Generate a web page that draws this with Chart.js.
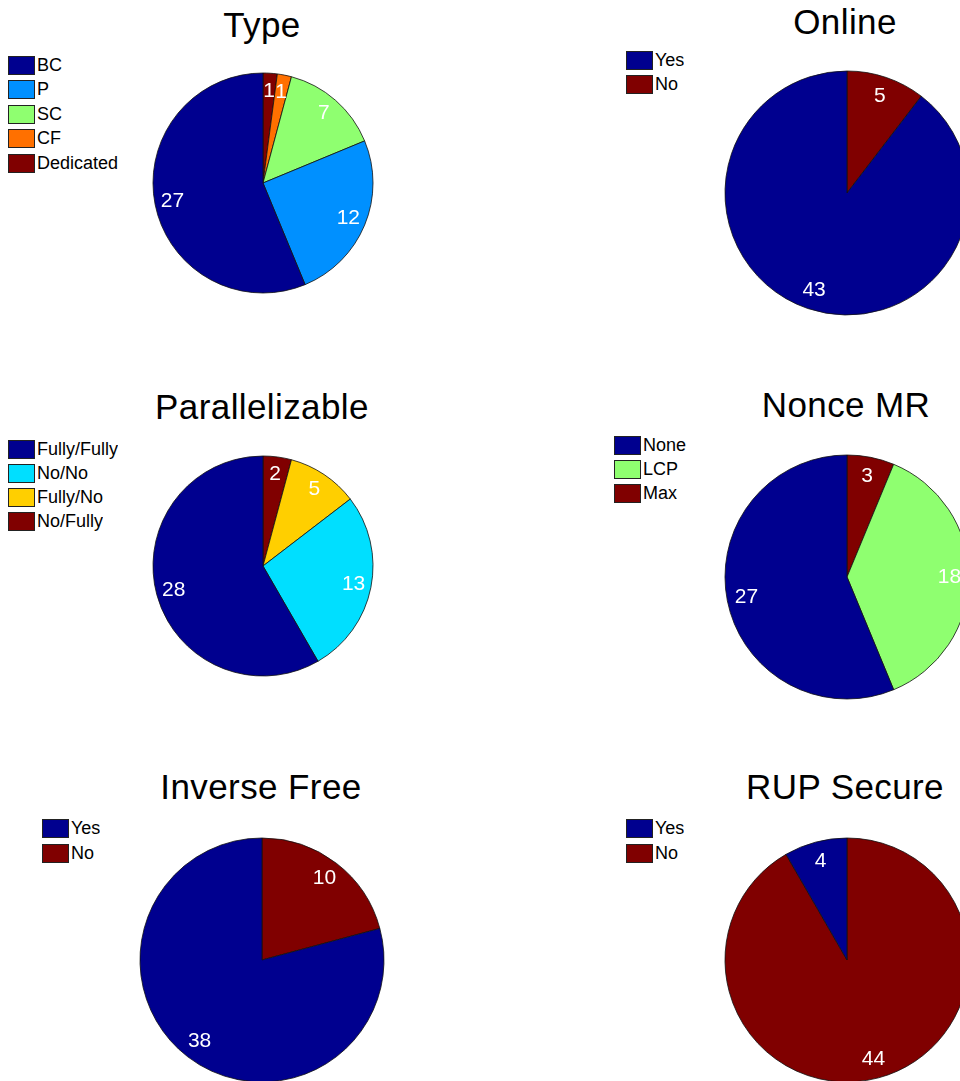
<!DOCTYPE html>
<html>
<head>
<meta charset="utf-8">
<script src="https://cdn.jsdelivr.net/npm/chart.js@4.4.1/dist/chart.umd.min.js"></script>
<style>
    html, body {
        margin: 0;
        padding: 0;
        background: #fff;
    }
    body {
        position: relative;
        width: 960px;
        height: 1081px;
        overflow: hidden;
        font-family: "Liberation Sans", Arial, sans-serif;
    }
    .pie-title {
        position: absolute;
        font-size: 35px;
        line-height: 35px;
        letter-spacing: 0.4px;
        color: #000;
        white-space: nowrap;
        transform: translateX(-50%);
    }
    .legend {
        position: absolute;
    }
    .legend-row {
        position: absolute;
        left: 0;
        height: 18px;
        display: flex;
        align-items: center;
        white-space: nowrap;
    }
    .legend-swatch {
        width: 25px;
        height: 17px;
        border: 1px solid #222;
        flex: none;
    }
    .legend-text {
        margin-left: 2px;
        font-size: 18px;
        color: #000;
        overflow: hidden;
    }
    canvas {
        position: absolute;
    }
</style>
</head>
<body>
<script>
// --- Datos de cada gráfico ---
const typeLabels = ["BC", "P", "SC", "CF", "Dedicated"];
const typeValues = [27, 12, 7, 1, 1];

const onlineLabels = ["Yes", "No"];
const onlineValues = [43, 5];

const parallelLabels = ["Fully/Fully", "No/No", "Fully/No", "No/Fully"];
const parallelValues = [28, 13, 5, 2];

const nonceLabels = ["None", "LCP", "Max"];
const nonceValues = [27, 18, 3];

const inverseLabels = ["Yes", "No"];
const inverseValues = [38, 10];

const rupLabels = ["Yes", "No"];
const rupValues = [4, 44];

// Colores tipo "jet" de MATLAB
const jet2 = ["#00008f", "#800000"];
const jet3 = ["#00008f", "#8fff70", "#800000"];
const jet4 = ["#00008f", "#00dfff", "#ffcf00", "#800000"];
const jet5 = ["#00008f", "#0090ff", "#8fff70", "#ff7000", "#800000"];

// Posición y tamaño de cada panel
const panels = [
    { title: "Type", labels: typeLabels, values: typeValues, colors: jet5,
      cx: 263, cy: 183, r: 110, titleBase: 37,
      legend: { x: 8, y: 56, pitch: 24.5 } },
    { title: "Online", labels: onlineLabels, values: onlineValues, colors: jet2,
      cx: 847, cy: 193, r: 122, titleBase: 34, titleX: 845,
      legend: { x: 626, y: 51, pitch: 24, clip: 31 } },
    { title: "Parallelizable", labels: parallelLabels, values: parallelValues, colors: jet4,
      cx: 263, cy: 566, r: 110, titleBase: 419,
      legend: { x: 8, y: 440, pitch: 24.2 } },
    { title: "Nonce MR", labels: nonceLabels, values: nonceValues, colors: jet3,
      cx: 847, cy: 577, r: 122, titleBase: 417, titleX: 846,
      legend: { x: 614, y: 436, pitch: 24 } },
    { title: "Inverse Free", labels: inverseLabels, values: inverseValues, colors: jet2,
      cx: 262, cy: 960, r: 122, titleBase: 799,
      legend: { x: 42, y: 819, pitch: 25, clip: 31 } },
    { title: "RUP Secure", labels: rupLabels, values: rupValues, colors: jet2,
      cx: 847, cy: 960, r: 122, titleBase: 799, titleX: 845,
      legend: { x: 626, y: 819, pitch: 25, clip: 31 } },
];

// Plugin: valores dentro de cada porción
const sliceLabels = {
    id: "sliceLabels",
    afterDatasetsDraw(chart) {
        const ctx = chart.ctx;
        const meta = chart.getDatasetMeta(0);
        const data = chart.data.datasets[0].data;
        ctx.save();
        ctx.fillStyle = "#fff";
        ctx.font = "21px 'Liberation Sans', Arial, sans-serif";
        ctx.textAlign = "center";
        ctx.textBaseline = "middle";
        meta.data.forEach((arc, i) => {
            const p = arc.getProps(["x", "y", "startAngle", "endAngle", "outerRadius"], true);
            const mid = (p.startAngle + p.endAngle) / 2;
            const d = p.outerRadius * 0.84;
            ctx.fillText(String(data[i]), p.x + Math.cos(mid) * d, p.y + Math.sin(mid) * d);
        });
        ctx.restore();
    },
};

panels.forEach((pn) => {
    // Título
    const t = document.createElement("div");
    t.className = "pie-title";
    t.textContent = pn.title;
    t.style.left = (pn.titleX || pn.cx - 1) + "px";
    t.style.top = (pn.titleBase - 30) + "px";
    document.body.appendChild(t);

    // Leyenda
    const lg = document.createElement("div");
    lg.className = "legend";
    lg.style.left = pn.legend.x + "px";
    lg.style.top = pn.legend.y + "px";
    pn.labels.forEach((lab, i) => {
        const row = document.createElement("div");
        row.className = "legend-row";
        row.style.top = (i * pn.legend.pitch) + "px";
        const sw = document.createElement("div");
        sw.className = "legend-swatch";
        sw.style.background = pn.colors[i];
        const tx = document.createElement("span");
        tx.className = "legend-text";
        tx.textContent = lab;
        if (pn.legend.clip) {
            tx.style.maxWidth = pn.legend.clip + "px";
        }
        row.appendChild(sw);
        row.appendChild(tx);
        lg.appendChild(row);
    });
    document.body.appendChild(lg);

    // Gráfico circular (MATLAB va antihorario, Chart.js horario: se invierte el orden)
    const pad = 4;
    const size = 2 * (pn.r + pad);
    const cv = document.createElement("canvas");
    cv.width = size;
    cv.height = size;
    cv.style.width = size + "px";
    cv.style.height = size + "px";
    cv.style.left = (pn.cx - pn.r - pad) + "px";
    cv.style.top = (pn.cy - pn.r - pad) + "px";
    document.body.appendChild(cv);

    new Chart(cv, {
        type: "pie",
        data: {
            labels: pn.labels.slice().reverse(),
            datasets: [
                {
                    data: pn.values.slice().reverse(),
                    backgroundColor: pn.colors.slice().reverse(),
                    borderColor: "#111",
                    borderWidth: 0.8,
                },
            ],
        },
        options: {
            responsive: false,
            animation: false,
            devicePixelRatio: 1,
            radius: pn.r,
            layout: { padding: 0 },
            plugins: {
                legend: { display: false },
                tooltip: { enabled: false },
            },
        },
        plugins: [sliceLabels],
    });
});
</script>
</body>
</html>
